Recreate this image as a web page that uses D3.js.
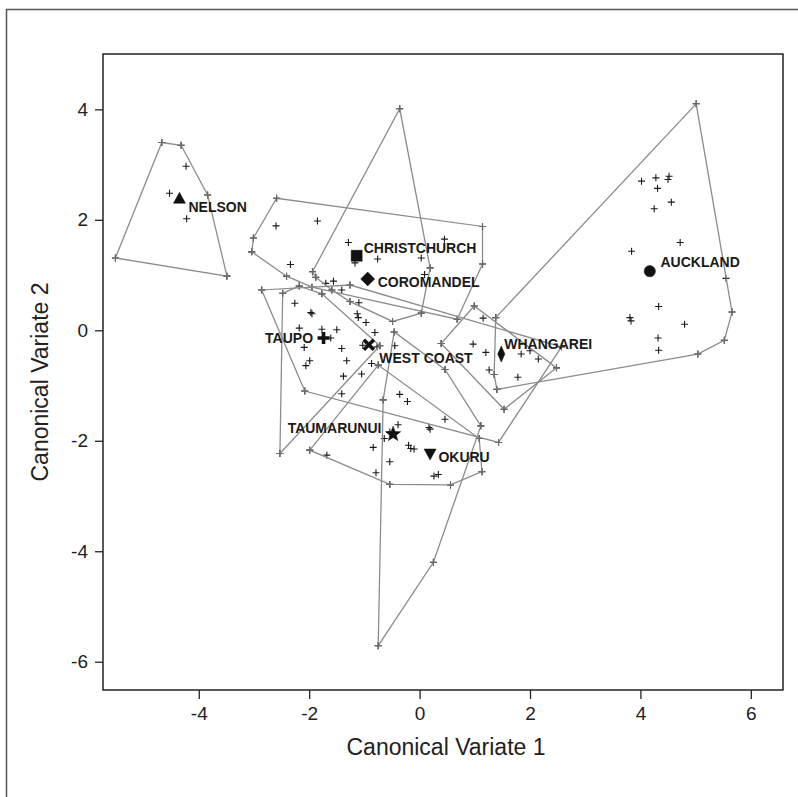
<!DOCTYPE html>
<html>
<head>
<meta charset="utf-8">
<script src="https://cdn.jsdelivr.net/npm/d3@7"></script>
<style>
  html, body { margin: 0; padding: 0; background: #fff; }
  svg { display: block; }
</style>
</head>
<body>
<svg id="chart" width="798" height="797"></svg>
<script>
// ---------------- DATA ----------------
const groupNames = ["NELSON","CHRISTCHURCH","COROMANDEL","TAUPO","WEST COAST","WHANGAREI","AUCKLAND","TAUMARUNUI","OKURU"];

const nelson = [[-4.67,3.40],[-4.32,3.35],[-4.23,2.97],[-4.53,2.48],[-3.84,2.45],[-4.22,2.02],[-5.51,1.31],[-3.49,0.98]];
const christchurch = [[-2.59,2.39],[1.14,1.88],[1.14,1.20],[0.68,0.20],[-1.95,0.78],[-2.41,0.98],[-3.04,1.42],[-3.01,1.67],
  [-2.60,1.89],[-1.85,1.98],[-1.29,1.59],[-1.17,1.22],[0.03,1.31],[0.45,1.65],[-2.34,1.19]];
const coromandel = [[-0.36,4.01],[0.19,1.13],[0.03,0.31],[-0.49,0.16],[-1.88,0.96],[-1.94,1.06],
  [0.09,1.01],[-0.76,1.29],[-1.70,0.85],[-1.56,0.89],[-1.59,0.73],[-1.41,0.73],[-1.26,0.52],[-1.10,0.50]];
const taupo = [[-2.48,0.67],[-2.18,0.80],[-1.77,0.66],[-0.72,-0.28],[-2.53,-2.23],
  [-2.26,0.49],[-1.97,0.32],[-1.95,0.30],[-2.18,0.04],[-1.77,0.02],[-1.50,0.01],[-1.61,-0.14],[-2.09,-0.31],
  [-1.41,-0.33],[-1.32,-0.55],[-1.99,-0.55],[-2.06,-0.64],[-1.38,-0.83]];
const westCoast = [[-2.86,0.73],[-1.26,0.82],[2.57,-0.30],[1.43,-2.03],[-2.08,-1.10],
  [-1.03,-0.27],[-0.77,-0.30],[-0.45,-0.28],[-0.87,-0.60],[-1.05,-0.79],[-1.13,0.30],[-1.11,0.23],
  [-0.97,0.14],[-0.81,-0.04],[-1.41,-1.15]];
const whangarei = [[0.99,0.44],[2.48,-0.68],[1.53,-1.43],[0.39,-0.24],
  [1.15,0.22],[0.97,-0.25],[1.20,-0.40],[1.84,-0.43],[2.00,-0.37],[2.15,-0.52],[1.26,-0.72],[1.78,-0.85]];
const auckland = [[5.01,4.10],[5.55,0.94],[5.66,0.33],[5.52,-0.18],[5.04,-0.43],[1.40,-1.07],[1.38,0.23],[1.35,-0.80],
  [4.02,2.70],[4.28,2.76],[4.52,2.79],[4.50,2.73],[4.31,2.57],[4.56,2.32],[4.25,2.20],[4.72,1.59],[3.84,1.43],
  [4.33,0.43],[3.81,0.23],[3.83,0.17],[4.80,0.11],[4.32,-0.14],[4.33,-0.36]];
const taumarunui = [[-1.99,-2.17],[-0.75,-0.63],[1.08,-1.96],[1.13,-2.56],[0.56,-2.80],[-0.54,-2.79],
  [-0.39,-1.71],[-0.54,-1.84],[-0.64,-1.96],[-0.84,-2.12],[-0.54,-2.38],[-0.79,-2.58],[-1.68,-2.26]];
const okuru = [[-0.46,-0.03],[0.46,-0.71],[1.11,-1.73],[0.25,-4.20],[-0.75,-5.71],[-0.66,-1.26],
  [0.17,-1.76],[0.19,-1.79],[0.26,-2.64],[0.34,-2.61],[-0.20,-2.08],[-0.16,-2.14],[-0.10,-2.15],
  [-0.36,-1.16],[-0.22,-1.29],[0.46,-1.61]];

const groupPoints = [nelson, christchurch, coromandel, taupo, westCoast, whangarei, auckland, taumarunui, okuru];

// group means
const centroidX = [-4.35,-1.14,-0.94,-1.74,-0.92,1.48,4.17,-0.48,0.19];
const centroidY = [2.39,1.35,0.93,-0.14,-0.26,-0.43,1.07,-1.88,-2.24];

const xTicks = [-4,-2,0,2,4,6];
const yTicks = [-6,-4,-2,0,2,4];
const xTitle = "Canonical Variate 1";
const yTitle = "Canonical Variate 2";

// ---------------- LAYOUT / STYLE ----------------
const plot = {left: 103, right: 783, top: 54, bottom: 690};
const xDomain = [-5.735, 6.583];
const yDomain = [-6.512, 5.002];
const hullColor = "#8c8c8c";
const inkColor = "#1a1a1a";
const markerShape = ["triUp","square","diamond","boldPlus","boldX","thinDiamond","circle","star","triDown"];
const labelLayout = [
  {dx: 9, dy: 13.7, anchor: "start"},
  {dx: 7, dy: -2.5, anchor: "start"},
  {dx: 10, dy: 8, anchor: "start"},
  {dx: -10.5, dy: 5, anchor: "end"},
  {dx: 10.5, dy: 18.6, anchor: "start"},
  {dx: 3, dy: -5, anchor: "start"},
  {dx: 10.7, dy: -3.7, anchor: "start"},
  {dx: -11.6, dy: -1.6, anchor: "end"},
  {dx: 8.3, dy: 8.3, anchor: "start"}
];

const svg = d3.select("#chart");

// outer frame (extends past the picture on right and bottom)
svg.append("rect").attr("x", 6.5).attr("y", 9.5).attr("width", 900).attr("height", 900)
  .attr("fill", "none").attr("stroke", "#555").attr("stroke-width", 1.5);

const x = d3.scaleLinear().domain(xDomain).range([plot.left, plot.right]);
const y = d3.scaleLinear().domain(yDomain).range([plot.bottom, plot.top]);

// axes
const fontAxis = "'Liberation Sans', Arial, sans-serif";
const xAxis = svg.append("g").attr("transform", `translate(0,${plot.bottom})`)
  .call(d3.axisBottom(x).tickValues(xTicks).tickFormat(d3.format("d")).tickSize(9).tickPadding(8));
const yAxis = svg.append("g").attr("transform", `translate(${plot.left},0)`)
  .call(d3.axisLeft(y).tickValues(yTicks).tickFormat(d3.format("d")).tickSize(8).tickPadding(7));
[xAxis, yAxis].forEach(a => {
  a.select(".domain").remove();
  a.selectAll(".tick line").attr("stroke", "#222").attr("stroke-width", 1.3);
  a.selectAll(".tick text").attr("fill", "#222").style("font-family", fontAxis).style("font-size", "19px");
});
svg.selectAll(".tick text").text(function(d){ return d < 0 ? "-" + Math.abs(d) : String(d); });

// plot frame
svg.append("rect").attr("x", plot.left).attr("y", plot.top)
  .attr("width", plot.right - plot.left).attr("height", plot.bottom - plot.top)
  .attr("fill", "none").attr("stroke", "#222").attr("stroke-width", 1.5);

// axis titles
svg.append("text").attr("x", 446).attr("y", 755).attr("text-anchor", "middle")
  .style("font-family", fontAxis).style("font-size", "23px").attr("fill", "#222").text(xTitle);
svg.append("text").attr("transform", "translate(48,382) rotate(-90)").attr("text-anchor", "middle")
  .style("font-family", fontAxis).style("font-size", "23px").attr("fill", "#222").text(yTitle);

const plusPath = "M-3.5,0H3.5M0,-3.5V3.5";
const gData = svg.append("g");

// all observations as black plus signs
groupPoints.forEach(pts => {
  gData.selectAll(null).data(pts).enter().append("path")
    .attr("d", plusPath)
    .attr("transform", d => `translate(${x(d[0])},${y(d[1])})`)
    .attr("stroke", inkColor).attr("stroke-width", 1.1).attr("fill", "none");
});

// convex hulls
const line = d3.line().curve(d3.curveLinearClosed);
groupPoints.forEach(pts => {
  const hull = d3.polygonHull(pts.map(d => [x(d[0]), y(d[1])]));
  gData.append("path").attr("d", line(hull))
    .attr("fill", "none").attr("stroke", hullColor).attr("stroke-width", 1.3);
  gData.selectAll(null).data(hull).enter().append("path")
    .attr("d", plusPath)
    .attr("transform", d => `translate(${d[0]},${d[1]})`)
    .attr("stroke", "#6a6a6a").attr("stroke-width", 1.1).attr("fill", "none");
});

// centroid markers
function starPath(r1, r2) {
  const p = [];
  for (let i = 0; i < 10; i++) {
    const r = i % 2 === 0 ? r1 : r2;
    const a = -Math.PI / 2 + i * Math.PI / 5;
    p.push([r * Math.cos(a), r * Math.sin(a)]);
  }
  return "M" + p.map(q => q[0].toFixed(2) + "," + q[1].toFixed(2)).join("L") + "Z";
}
const shapes = {
  triUp: {d: "M0,-6L6,5L-6,5Z", fill: true},
  triDown: {d: "M-6,-5L6,-5L0,6Z", fill: true},
  square: {d: "M-5.5,-5.5H5.5V5.5H-5.5Z", fill: true},
  diamond: {d: "M0,-7L7,0L0,7L-7,0Z", fill: true},
  thinDiamond: {d: "M0,-8L3.6,0L0,8L-3.6,0Z", fill: true},
  circle: {d: d3.symbol(d3.symbolCircle, 100)(), fill: true},
  star: {d: starPath(8, 3.4), fill: true},
  boldPlus: {d: "M-6,0H6M0,-6V6", fill: false},
  boldX: {d: "M-5,-5L5,5M-5,5L5,-5", fill: false}
};
const gCent = svg.append("g");
groupNames.forEach((name, i) => {
  const cx = x(centroidX[i]), cy = y(centroidY[i]);
  const s = shapes[markerShape[i]];
  gCent.append("path").attr("d", s.d).attr("transform", `translate(${cx},${cy})`)
    .attr("fill", s.fill ? "#111" : "none")
    .attr("stroke", "#111").attr("stroke-width", s.fill ? 0.5 : 3.6);
  const L = labelLayout[i];
  gCent.append("text").attr("x", cx + L.dx).attr("y", cy + L.dy)
    .attr("text-anchor", L.anchor)
    .style("font-family", fontAxis).style("font-weight", "bold").style("font-size", "14px")
    .attr("fill", "#1a1a1a").text(name);
});
</script>
</body>
</html>
